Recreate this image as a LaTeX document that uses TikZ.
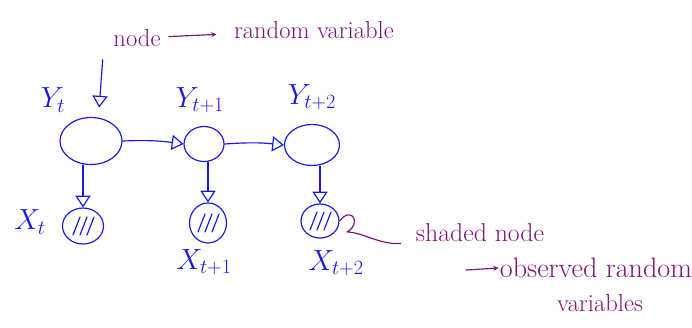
\documentclass[tikz,border=0pt]{standalone}
\usetikzlibrary{arrows.meta,shapes.geometric,calc}
\definecolor{penblue}{RGB}{25,25,225}
\definecolor{penpurple}{RGB}{125,20,125}
\begin{document}
\begin{tikzpicture}[x=0.03cm,y=-0.03cm,line join=round,line cap=round,font=\fontsize{21}{24}\selectfont,
	hand/.style={penblue,line width=1pt},
	note/.style={penpurple,line width=1pt},
	rv/.style={ellipse,draw=penblue,line width=1pt,inner sep=0pt},
	tri/.style={-{Triangle[open,length=10pt,width=13pt]}},
	lbl/.style={penblue,font=\fontsize{26}{30}\selectfont},
	txt/.style={penpurple,inner sep=1pt}]
	\def\pu{0.03cm}
	\useasboundingbox (0,0) rectangle (692,327);
	% hidden chain
	\node[rv,minimum width=62*\pu,minimum height=47*\pu] (ya) at (91,141) {};
	\node[rv,minimum width=40*\pu,minimum height=35*\pu] (yb) at (204,144) {};
	\node[rv,minimum width=55*\pu,minimum height=41*\pu] (yc) at (312,145) {};
	% observed ones
	\node[rv,minimum width=41*\pu,minimum height=36*\pu] (xa) at (83,226) {};
	\node[rv,minimum width=37*\pu,minimum height=40*\pu] (xb) at (208,223) {};
	\node[rv,minimum width=38*\pu,minimum height=34*\pu] (xc) at (320,221) {};
	\foreach \n in {xa,xb,xc}{
		\foreach \d in {-7,0,7}{\draw[hand] ($(\n)+(\d+4,-9)$) -- ++(-7,18);}
	}
	\node[lbl] (lya) at (53,100) {$Y_t$};
	\node[lbl] (lyb) at (200,100) {$Y_{t+1}$};
	\node[lbl] (lyc) at (312,97) {$Y_{t+2}$};
	\node[lbl] (lxa) at (30,222) {$X_t$};
	\node[lbl] (lxb) at (204,262) {$X_{t+1}$};
	\node[lbl] (lxc) at (336,263) {$X_{t+2}$};
	\draw[hand,tri] (ya.east) to[bend left=5] (yb.west);
	\draw[hand,tri] (yb.east) to[bend left=5] (yc.west);
	\foreach \a/\b in {ya/xa,yb/xb,yc/xc}{\draw[hand,tri] (\a.south -| \b.north) -- (\b.north);}
	% notes
	\node[txt] (lnode) at (137,38) {node};
	\node[txt] (lrv) at (314,30) {random variable};
	\draw[note,->,>=stealth,shorten <=6pt,shorten >=14pt] (lnode) -- (lrv);
	\draw[hand,tri] ([xshift=-8pt,yshift=-10pt]lnode.south west) -- ([xshift=7pt,yshift=8pt]ya.north);
	\node[txt,font=\fontsize{22}{26}\selectfont] (lshade) at (480,233) {shaded node};
	\draw[note,shorten >=12pt] (xc.east) .. controls (352,205) and (362,224) .. (347,232) .. controls (362,232) and (380,245) .. ([yshift=-8pt]lshade.west);
	\node[txt,font=\fontsize{24}{28}\selectfont] (lobs) at (596,268) {observed random};
	\node[txt] (lvar) at (600,303) {variables};
	\coordinate (obsstart) at (466,270);
	\draw[note,->,>=stealth] (obsstart) -- (lobs.west);
\end{tikzpicture}
\end{document}
